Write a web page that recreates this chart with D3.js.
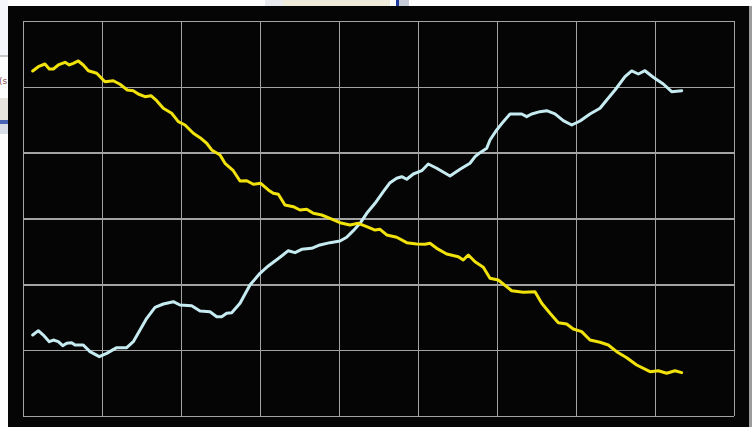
<!DOCTYPE html>
<meta charset="utf-8">
<style>

body {
  margin: 0;
  background: #fff;
}

.grid line {
  stroke: #a3a3a3;
  stroke-width: 1.5px;
  shape-rendering: crispEdges;
}

.grid path {
  display: none;
}

.grid text {
  display: none;
}

.trace {
  fill: none;
  stroke-width: 3px;
  stroke-linejoin: round;
  stroke-linecap: round;
}

</style>
<svg width="752" height="427"></svg>
<script src="https://d3js.org/d3.v7.min.js"></script>
<script>

// grid divisions
var xTicks = d3.range(0, 10)
var yTicks = d3.range(0, 7)

// yellow trace, falling
var yellowX = [0.123, 0.194, 0.278, 0.333, 0.384, 0.447, 0.532, 0.586, 0.637, 0.700,
  0.763, 0.827, 0.933, 1.038, 1.143, 1.228, 1.320, 1.396, 1.459, 1.544,
  1.620, 1.692, 1.776, 1.882, 1.966, 2.051, 2.156, 2.241, 2.325, 2.389,
  2.494, 2.557, 2.662, 2.747, 2.832, 2.915, 3.009, 3.105, 3.168, 3.232,
  3.316, 3.422, 3.506, 3.591, 3.675, 3.781, 3.886, 4.013, 4.139, 4.244,
  4.351, 4.456, 4.519, 4.604, 4.730, 4.857, 4.984, 5.089, 5.152, 5.237,
  5.363, 5.510, 5.573, 5.637, 5.722, 5.827, 5.911, 6.016, 6.186, 6.333,
  6.481, 6.566, 6.671, 6.776, 6.882, 6.966, 7.072, 7.177, 7.304, 7.409,
  7.515, 7.642, 7.768, 7.937, 8.042, 8.148, 8.253, 8.338]
var yellowY = [5.241, 5.306, 5.347, 5.271, 5.271, 5.332, 5.373, 5.332, 5.358, 5.393,
  5.332, 5.245, 5.206, 5.078, 5.093, 5.039, 4.952, 4.941, 4.891, 4.850,
  4.866, 4.790, 4.674, 4.598, 4.471, 4.420, 4.294, 4.228, 4.143, 4.041,
  3.965, 3.839, 3.726, 3.570, 3.574, 3.520, 3.535, 3.433, 3.383, 3.368,
  3.205, 3.179, 3.129, 3.140, 3.079, 3.053, 3.003, 2.936, 2.901, 2.927,
  2.876, 2.825, 2.836, 2.750, 2.715, 2.633, 2.613, 2.608, 2.623, 2.547,
  2.461, 2.420, 2.370, 2.446, 2.344, 2.259, 2.092, 2.066, 1.903, 1.879,
  1.888, 1.712, 1.560, 1.417, 1.398, 1.322, 1.281, 1.154, 1.120, 1.079,
  0.977, 0.886, 0.775, 0.673, 0.688, 0.649, 0.688, 0.658]

// blue trace, rising
var blueX = [0.123, 0.194, 0.257, 0.333, 0.384, 0.447, 0.503, 0.553, 0.616, 0.658,
  0.763, 0.848, 0.966, 1.059, 1.186, 1.313, 1.396, 1.481, 1.566, 1.671,
  1.776, 1.903, 1.987, 2.135, 2.241, 2.367, 2.452, 2.515, 2.578, 2.642,
  2.747, 2.873, 3.000, 3.105, 3.253, 3.358, 3.443, 3.528, 3.654, 3.759,
  3.886, 4.013, 4.097, 4.181, 4.266, 4.351, 4.456, 4.561, 4.646, 4.730,
  4.794, 4.857, 4.941, 5.047, 5.130, 5.237, 5.405, 5.532, 5.658, 5.722,
  5.785, 5.870, 5.911, 5.996, 6.080, 6.165, 6.313, 6.376, 6.439, 6.544,
  6.629, 6.734, 6.839, 6.946, 7.051, 7.177, 7.304, 7.389, 7.494, 7.620,
  7.705, 7.789, 7.873, 7.978, 8.105, 8.211, 8.338]
var blueY = [1.230, 1.296, 1.230, 1.129, 1.154, 1.129, 1.068, 1.104, 1.113, 1.079,
  1.079, 0.977, 0.901, 0.952, 1.038, 1.038, 1.129, 1.306, 1.484, 1.651,
  1.701, 1.736, 1.686, 1.676, 1.595, 1.584, 1.508, 1.508, 1.560, 1.569,
  1.712, 1.990, 2.168, 2.279, 2.411, 2.511, 2.481, 2.532, 2.547, 2.598,
  2.633, 2.658, 2.715, 2.815, 2.927, 3.079, 3.231, 3.407, 3.544, 3.611,
  3.635, 3.596, 3.676, 3.726, 3.828, 3.763, 3.646, 3.748, 3.839, 3.939,
  4.000, 4.067, 4.193, 4.345, 4.471, 4.588, 4.588, 4.547, 4.588, 4.623,
  4.638, 4.588, 4.486, 4.420, 4.481, 4.588, 4.674, 4.800, 4.952, 5.154,
  5.241, 5.195, 5.245, 5.145, 5.043, 4.926, 4.941]

var svg = d3.select("svg")

// bits of the window behind the scope screen
svg.append("rect").attr("x", 0).attr("y", 0).attr("width", 752).attr("height", 427).attr("fill", "#fdfdfd")
svg.append("rect").attr("x", 0).attr("y", 0).attr("width", 8).attr("height", 55).attr("fill", "#f4f6fb")
svg.append("rect").attr("x", 0).attr("y", 55).attr("width", 8).attr("height", 2).attr("fill", "#c8c8c8")
svg.append("text").attr("x", -1).attr("y", 84).attr("fill", "#8a4a4a")
  .style("font", "9px 'DejaVu Sans', sans-serif").text("(s")
svg.append("rect").attr("x", 0).attr("y", 98).attr("width", 8).attr("height", 22).attr("fill", "#e6e4dc")
svg.append("rect").attr("x", 0).attr("y", 120).attr("width", 8).attr("height", 4).attr("fill", "#4a64b4")
svg.append("rect").attr("x", 0).attr("y", 124).attr("width", 8).attr("height", 10).attr("fill", "#d9dde8")
svg.append("rect").attr("x", 265).attr("y", 0).attr("width", 18).attr("height", 6).attr("fill", "#e8eaee")
svg.append("rect").attr("x", 283).attr("y", 0).attr("width", 107).attr("height", 6).attr("fill", "#eeebdb")
svg.append("rect").attr("x", 396).attr("y", 0).attr("width", 3).attr("height", 6).attr("fill", "#1d3c9c")
svg.append("rect").attr("x", 399).attr("y", 0).attr("width", 10).attr("height", 6).attr("fill", "#c7ccd8")
svg.append("rect").attr("x", 749).attr("y", 6).attr("width", 3).attr("height", 421).attr("fill", "#9c9c9c")

// black screen
svg.append("rect")
    .attr("x", 8).attr("y", 6)
    .attr("width", 741).attr("height", 421)
    .attr("fill", "#050505")

var x = d3.scaleLinear().domain([0, 9]).range([23, 734])
var y = d3.scaleLinear().domain([0, 6]).range([416, 21])

svg.append("g")
    .attr("class", "grid")
    .attr("transform", "translate(0," + y(0) + ")")
    .call(d3.axisBottom(x).tickValues(xTicks).tickSize(-(y(0) - y(6))))

svg.append("g")
    .attr("class", "grid")
    .attr("transform", "translate(" + x(0) + ",0)")
    .call(d3.axisLeft(y).tickValues(yTicks).tickSize(-(x(9) - x(0))))

var line = d3.line()
    .x(function(d) { return x(d[0]) })
    .y(function(d) { return y(d[1]) })

svg.append("path")
    .attr("class", "trace")
    .attr("stroke", "#c6ecf2")
    .attr("d", line(d3.zip(blueX, blueY)))

svg.append("path")
    .attr("class", "trace")
    .attr("stroke", "#f2e20c")
    .attr("d", line(d3.zip(yellowX, yellowY)))

</script>
